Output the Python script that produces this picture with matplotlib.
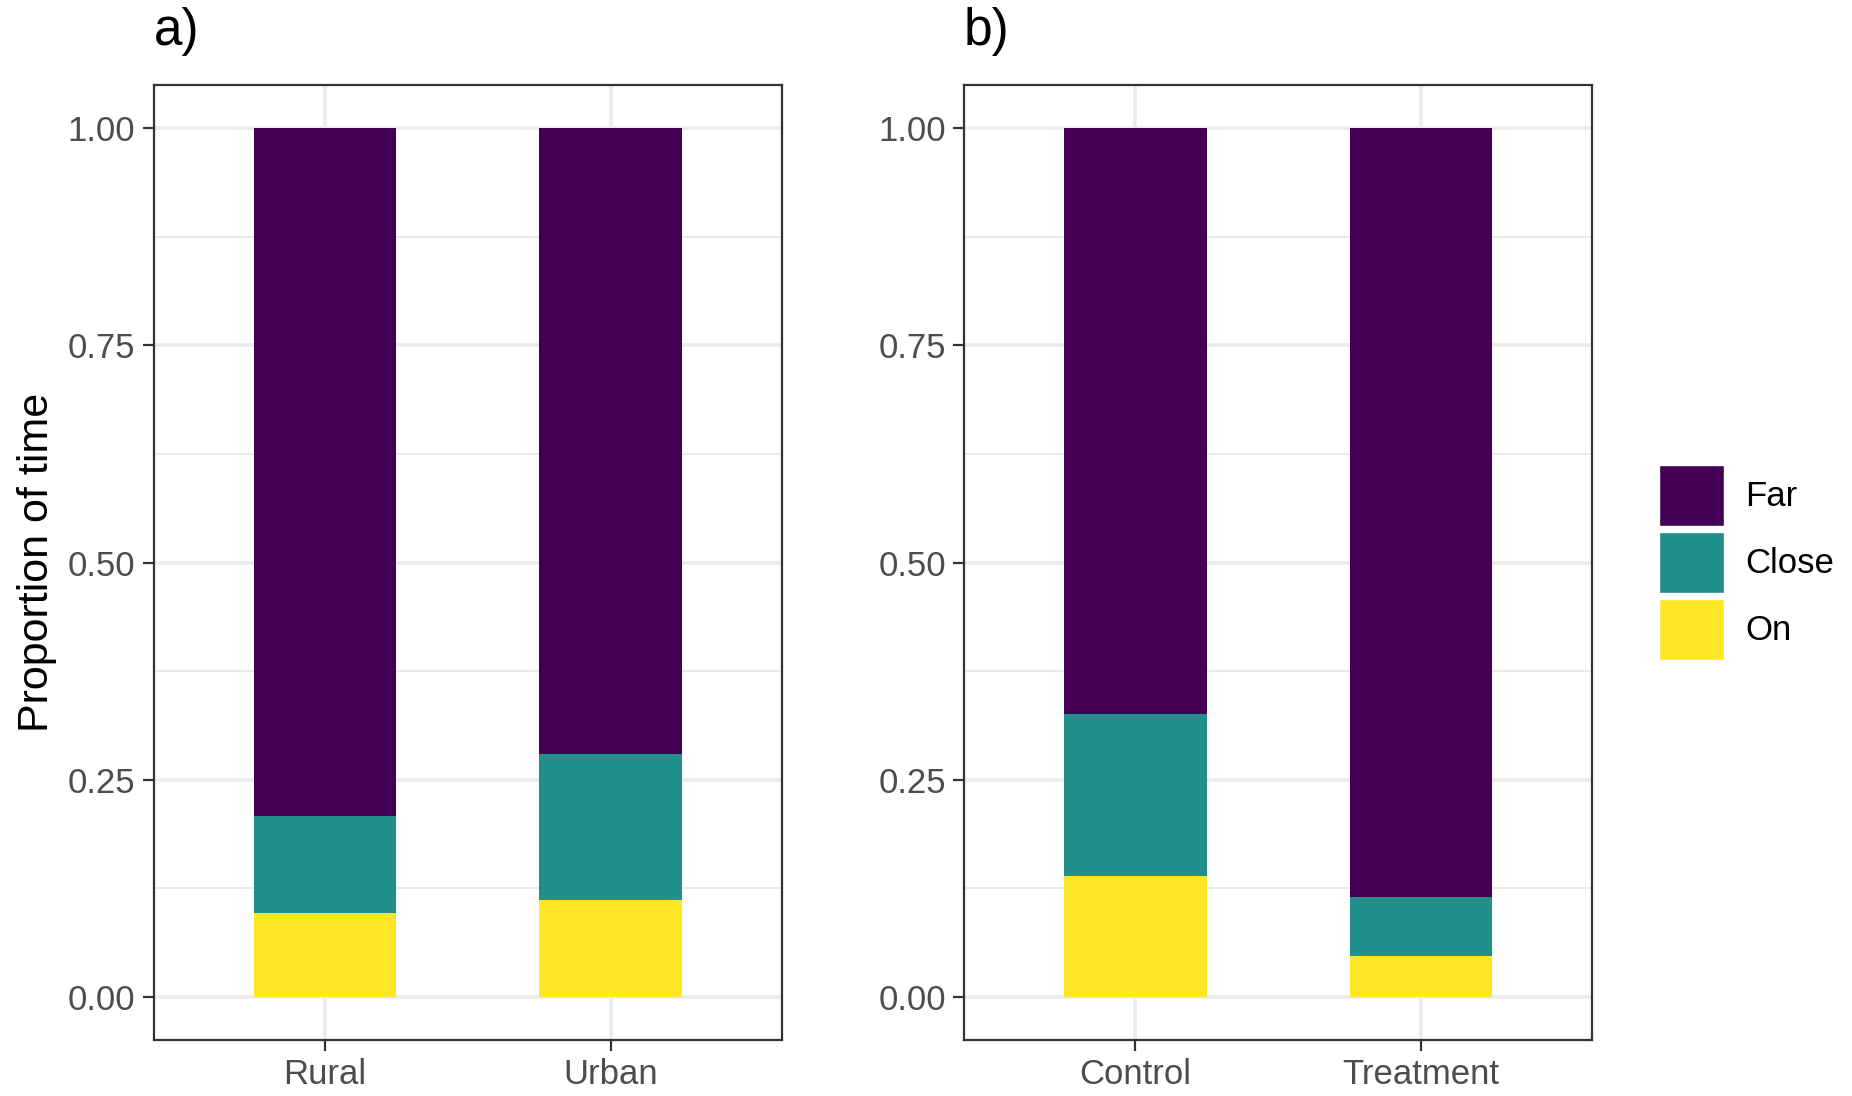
import matplotlib.pyplot as plt
from matplotlib.patches import Patch
from matplotlib.ticker import MultipleLocator

plt.rcParams['font.family'] = ['Liberation Sans', 'DejaVu Sans']

panel_a_groups = ['Rural', 'Urban']
panel_a_on = [0.096, 0.111]
panel_a_close = [0.112, 0.169]

panel_b_groups = ['Control', 'Treatment']
panel_b_on = [0.139, 0.047]
panel_b_close = [0.187, 0.068]

levels = ['Far', 'Close', 'On']
colors = {'Far': '#440154', 'Close': '#21908C', 'On': '#FDE725'}

fig = plt.figure(figsize=(18.52, 10.96), dpi=100)
ax_a = fig.add_axes([0.0829, 0.0511, 0.3393, 0.8713])
ax_b = fig.add_axes([0.5205, 0.0511, 0.3393, 0.8713])


def draw_panel(ax, groups, on, close, tag):
    x = list(range(1, len(groups) + 1))
    far = [1 - o - c for o, c in zip(on, close)]
    bottom_close = on
    bottom_far = [o + c for o, c in zip(on, close)]
    ax.bar(x, on, width=0.5, color=colors['On'], zorder=3)
    ax.bar(x, close, width=0.5, bottom=bottom_close, color=colors['Close'], zorder=3)
    ax.bar(x, far, width=0.5, bottom=bottom_far, color=colors['Far'], zorder=3)
    ax.set_xlim(0.4, 2.6)
    ax.set_ylim(-0.05, 1.05)
    ax.set_xticks(x)
    ax.set_xticklabels(groups)
    ax.set_yticks([0, 0.25, 0.5, 0.75, 1.0])
    ax.set_yticklabels(['0.00', '0.25', '0.50', '0.75', '1.00'])
    ax.yaxis.set_minor_locator(MultipleLocator(0.125))
    ax.grid(which='major', color='#EBEBEB', linewidth=2.6, zorder=0)
    ax.grid(which='minor', axis='y', color='#EBEBEB', linewidth=1.4, zorder=0)
    ax.tick_params(which='major', length=8, width=1.6, color='#333333',
                   labelsize=25, labelcolor='#4D4D4D', pad=5)
    ax.tick_params(which='minor', length=0)
    for s in ax.spines.values():
        s.set_color('#333333')
        s.set_linewidth(1.6)
    ax.set_axisbelow(True)
    ax.text(0.0, 1.03, tag, transform=ax.transAxes, fontsize=37,
            ha='left', va='bottom')


draw_panel(ax_a, panel_a_groups, panel_a_on, panel_a_close, 'a)')
draw_panel(ax_b, panel_b_groups, panel_b_on, panel_b_close, 'b)')
ax_a.set_ylabel('Proportion of time', fontsize=31, labelpad=8)

handles = [Patch(facecolor=colors[l], edgecolor='white', linewidth=1) for l in levels]
fig.legend(handles, levels, loc='center left', bbox_to_anchor=(0.8865, 0.487),
           frameon=False, fontsize=25, handlelength=1.87, handleheight=2.34,
           labelspacing=0.166, handletextpad=0.6, borderpad=0)

fig.savefig('out.png', dpi=100)
